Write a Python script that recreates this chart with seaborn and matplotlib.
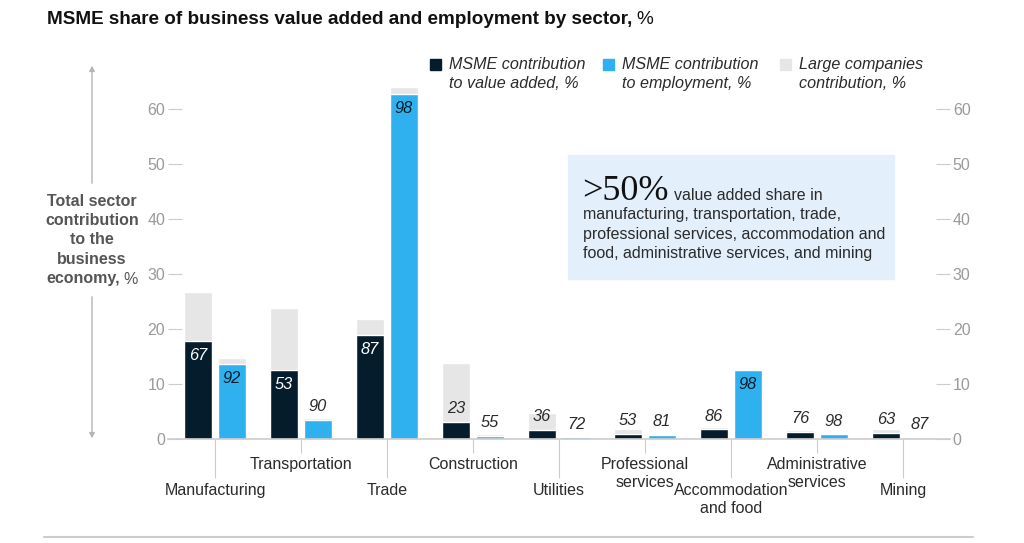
import matplotlib
matplotlib.use("Agg")
import matplotlib.pyplot as plt
import pandas as pd
import seaborn as sns
from matplotlib.patches import Rectangle, FancyArrowPatch
from matplotlib.lines import Line2D

# ---- data ----
SECTORS = [
    "Manufacturing", "Transportation", "Trade", "Construction", "Utilities",
    "Professional services", "Accommodation and food", "Administrative services", "Mining",
]
TICK_LABELS = [
    "Manufacturing", "Transportation", "Trade", "Construction", "Utilities",
    "Professional\nservices", "Accommodation\nand food", "Administrative\nservices", "Mining",
]
VA_TOTAL = [26.7, 23.8, 21.8, 13.8, 4.7, 1.8, 2.1, 1.7, 1.8]        # total sector share of value added, %
VA_MSME_SHARE = [67, 53, 87, 23, 36, 53, 86, 76, 63]               # MSME share within sector, %
EMP_TOTAL = [14.8, 3.9, 64.0, 1.0, 0.4, 1.0, 12.8, 0.85, 0.2]     # total sector share of employment, %
EMP_MSME_SHARE = [92, 90, 98, 55, 72, 81, 98, 98, 87]
MEASURES = ["Value added", "Employment"]
Y_TICKS = [0, 10, 20, 30, 40, 50, 60]

NAVY = "#051c2c"
BLUE = "#30b1ef"
GREY = "#e6e6e6"
BOX = "#e3effb"
TICK_GREY = "#9a9a9a"
LINE_GREY = "#cccccc"
TEXT = "#2b2b2b"

W, H = 1024, 543


def fx(px):
    return px / W


def fy(py):
    return 1 - py / H


def build_frame():
    rows = []
    for i, sector in enumerate(SECTORS):
        rows.append({"sector": sector, "measure": MEASURES[0], "total": VA_TOTAL[i],
                     "msme": VA_TOTAL[i] * VA_MSME_SHARE[i] / 100, "share": VA_MSME_SHARE[i]})
        rows.append({"sector": sector, "measure": MEASURES[1], "total": EMP_TOTAL[i],
                     "msme": EMP_TOTAL[i] * EMP_MSME_SHARE[i] / 100, "share": EMP_MSME_SHARE[i]})
    return pd.DataFrame(rows)


sns.set_theme(style="white")
plt.rcParams["font.family"] = ["Liberation Sans", "DejaVu Sans"]

df = build_frame()

fig = plt.figure(figsize=(W / 100, H / 100), dpi=100)
ax = fig.add_axes([fx(168), fy(439), 782 / W, 355 / H])

common = dict(data=df, x="sector", hue="measure", order=SECTORS, hue_order=MEASURES,
              width=0.79, gap=0.175, saturation=1, errorbar=None, legend=False, ax=ax)
sns.barplot(y="total", palette=[GREY, GREY], **common)
sns.barplot(y="msme", palette=[NAVY, BLUE], **common)

ax.set_xlim(-0.547, 8.547)
ax.set_ylim(0, 355 / 5.5)
ax.set_xlabel("")
ax.set_ylabel("")

# ---- value labels: MSME share of each bar ----
msme_containers = ax.containers[2:4]
for measure, container in zip(MEASURES, msme_containers):
    shares = df[df["measure"] == measure]["share"].values
    for bar, share in zip(container, shares):
        cx = bar.get_x() + bar.get_width() / 2
        top = bar.get_height()
        if top > 10:
            color = "white" if measure == MEASURES[0] else NAVY
            ax.annotate(f"{share}", (cx, top), xytext=(0, -5), textcoords="offset points",
                        ha="center", va="top", fontsize=11.8, style="italic", color=color)
        else:
            ax.annotate(f"{share}", (cx, top), xytext=(0, 4), textcoords="offset points",
                        ha="center", va="bottom", fontsize=11.8, style="italic", color=TEXT)

# ---- axes styling ----
for side in ["top", "left", "right"]:
    ax.spines[side].set_visible(False)
ax.spines["bottom"].set_color(LINE_GREY)
ax.spines["bottom"].set_linewidth(1.2)

ax.set_yticks(Y_TICKS)
ax.set_yticklabels([str(t) for t in Y_TICKS])
ax.tick_params(axis="y", left=True, right=True, labelleft=True, labelright=True,
               direction="in", length=10, width=0.8, color=LINE_GREY,
               labelsize=11.5, labelcolor=TICK_GREY, pad=2)

ax.set_xticks(range(0, len(SECTORS), 2))
ax.set_xticklabels(TICK_LABELS[0::2])
ax.set_xticks(range(1, len(SECTORS), 2), minor=True)
ax.set_xticklabels(TICK_LABELS[1::2], minor=True)
ax.tick_params(axis="x", which="major", bottom=True, direction="out", length=28,
               width=0.8, color=LINE_GREY, labelsize=11.5, labelcolor=TEXT, pad=4)
ax.tick_params(axis="x", which="minor", bottom=True, direction="out", length=10,
               width=0.8, color=LINE_GREY, labelsize=11.5, labelcolor=TEXT, pad=3)
for lab in ax.get_xticklabels(minor=False) + ax.get_xticklabels(minor=True):
    lab.set_linespacing(1.25)

fig.canvas.draw()
renderer = fig.canvas.get_renderer()

# ---- title ----
t1 = fig.text(fx(47), fy(19), "MSME share of business value added and employment by sector,",
              fontsize=13.6, fontweight="bold", color="#111111", va="center")
bb = t1.get_window_extent(renderer)
fig.text(bb.x1 / W + 4 / W, fy(19), "%", fontsize=13.6, color="#111111", va="center")

# ---- legend ----
legend_items = [
    (NAVY, 430, "MSME contribution\nto value added, %"),
    (BLUE, 603, "MSME contribution\nto employment, %"),
    (GREY, 780, "Large companies\ncontribution, %"),
]
for color, px, label in legend_items:
    fig.patches.append(Rectangle((fx(px), fy(70)), 11 / W, 11 / H, color=color,
                                 transform=fig.transFigure))
    fig.text(fx(px + 19), fy(57), label, fontsize=11.6, style="italic", color=TEXT,
             va="top", linespacing=1.3)

# ---- annotation box ----
fig.patches.append(Rectangle((fx(568), fy(279)), 326 / W, 124 / H, color=BOX,
                             transform=fig.transFigure, zorder=0))
big = fig.text(fx(582), fy(200), ">50%", fontsize=26, family="Liberation Serif",
               color="#111111", va="baseline")
bb = big.get_window_extent(renderer)
fig.text(bb.x1 / W + 6 / W, fy(200), "value added share in", fontsize=11.5, color=TEXT,
         va="baseline")
for py, line in zip([219, 238.5, 258], ["manufacturing, transportation, trade,",
                                        "professional services, accommodation and",
                                        "food, administrative services, and mining"]):
    fig.text(fx(583), fy(py), line, fontsize=11.5, color=TEXT, va="baseline")

# ---- vertical axis label with arrow ----
ylab_lines = ["Total sector", "contribution", "to the", "business"]
for k, line in enumerate(ylab_lines):
    fig.text(fx(92), fy(201 + 19.5 * k), line, fontsize=11.5, fontweight="bold",
             color="#555555", ha="center", va="center")
last_b = fig.text(0, fy(279), "economy,", fontsize=11.5, fontweight="bold",
                  color="#555555", va="center")
last_n = fig.text(0, fy(279), "%", fontsize=11.5, color="#555555", va="center")
wb = last_b.get_window_extent(renderer).width
wn = last_n.get_window_extent(renderer).width
start = 92 - (wb + 4 + wn) / 2
last_b.set_x(fx(start))
last_n.set_x(fx(start + wb + 4))

arrow_kw = dict(arrowstyle="-|>,head_length=3,head_width=1.6", color="#b5b5b5",
                linewidth=1.0, transform=fig.transFigure)
fig.patches.append(FancyArrowPatch((fx(92), fy(186)), (fx(92), fy(63)), **arrow_kw))
fig.patches.append(FancyArrowPatch((fx(92), fy(294)), (fx(92), fy(441)), **arrow_kw))

# ---- bottom rule ----
fig.add_artist(Line2D([fx(44), fx(973)], [fy(537), fy(537)], color=LINE_GREY,
                      linewidth=1.5, transform=fig.transFigure))

fig.savefig("out.png", dpi=100)
